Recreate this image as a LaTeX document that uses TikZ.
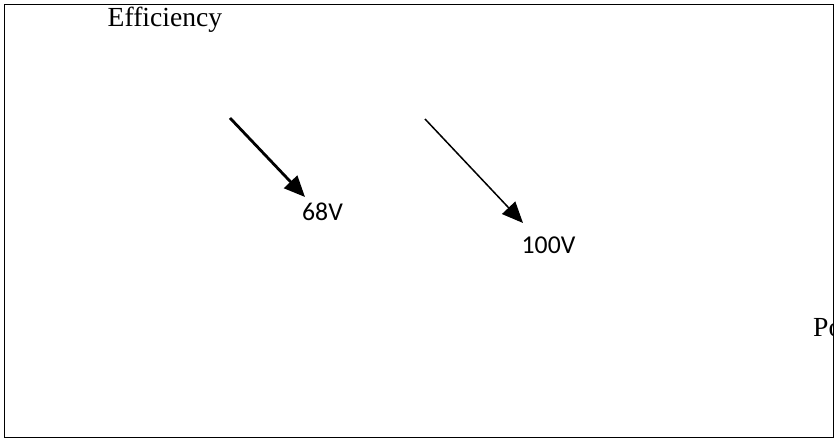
\documentclass[tikz,border=0pt]{standalone}
\usepackage{fontspec}
\setmainfont{Liberation Serif}
\newfontfamily\labelfont{Carlito}
\usetikzlibrary{arrows.meta}
\tikzset{
  axislabel/.style={inner sep=0pt, font=\fontsize{27.6}{30}\selectfont},
  voltlabel/.style={inner sep=0pt, font=\labelfont\fontsize{25.7}{28}\selectfont},
  pointer/.style={draw=black, -{Triangle[length=21pt,width=18pt]}},
}
\begin{document}
\begin{tikzpicture}[x=1pt,y=-1pt]
  \useasboundingbox (0,0) rectangle (836,439);
  % frame
  \draw[line width=1.5pt] (4.5,4.6) rectangle (833.6,437.5);
  % axis labels
  \node[axislabel, anchor=base west] (eff) at (107.5,26.5) {Efficiency};
  \begin{scope}
    \clip (4.5,4.6) rectangle (833,437.5);
    \node[axislabel, anchor=base west] (pow) at (813,336) {Power};
  \end{scope}
  % curve labels
  \node[voltlabel, anchor=base west] (v68) at (302,220) {68V};
  \node[voltlabel, anchor=base west] (v100) at (521.5,253) {100V};
  % arrows pointing at the curves
  \coordinate (a1s) at (230,118);
  \coordinate (a1e) at (305,197);
  \coordinate (a2s) at (425,119);
  \coordinate (a2e) at (523,223);
  \draw[pointer, line width=2.8pt] (a1s) -- (a1e);
  \draw[pointer, line width=1.5pt] (a2s) -- (a2e);
\end{tikzpicture}
\end{document}
